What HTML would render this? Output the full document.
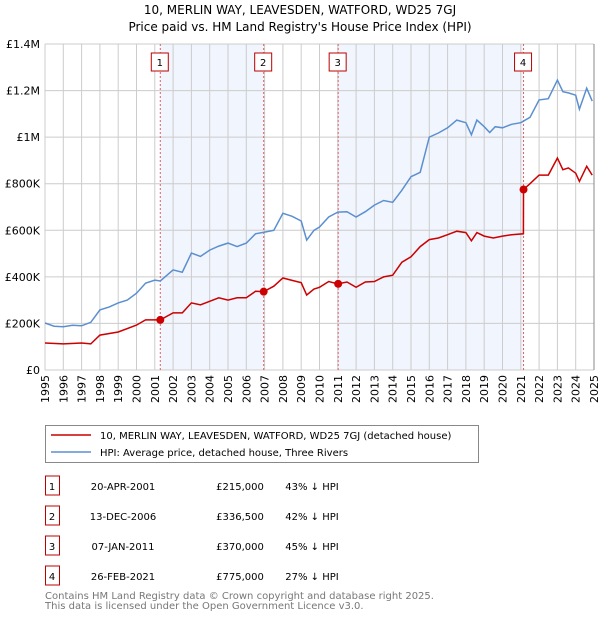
<!DOCTYPE html>
<html><head><meta charset="utf-8"><style>
body{margin:0;background:#fff;font-family:"DejaVu Sans","Liberation Sans",sans-serif;}
svg text{font-family:"DejaVu Sans","Liberation Sans",sans-serif;}
</style></head><body>
<svg id="c" width="600" height="620" xmlns="http://www.w3.org/2000/svg">
<text x="300" y="14" text-anchor="middle" font-size="12">10, MERLIN WAY, LEAVESDEN, WATFORD, WD25 7GJ</text>
<text x="300" y="31" text-anchor="middle" font-size="12">Price paid vs. HM Land Registry's House Price Index (HPI)</text>
<g id="plot"></g>
<g>
<rect x="45.5" y="425.5" width="433" height="37" fill="#fff" stroke="#888"/>
<line x1="51" y1="435" x2="91" y2="435" stroke="#cc0000" stroke-width="1.5"/>
<text x="100" y="439" font-size="10">10, MERLIN WAY, LEAVESDEN, WATFORD, WD25 7GJ (detached house)</text>
<line x1="51" y1="452" x2="91" y2="452" stroke="#5b8fd0" stroke-width="1.5"/>
<text x="100" y="456" font-size="10">HPI: Average price, detached house, Three Rivers</text>
</g>
<g id="table" font-size="10"></g>
<text x="45" y="599" font-size="10" fill="#777">Contains HM Land Registry data © Crown copyright and database right 2025.</text>
<text x="45" y="609" font-size="10" fill="#777">This data is licensed under the Open Government Licence v3.0.</text>
</svg>
<script>
const hpiYears=[1995,1995.5,1996,1996.5,1997,1997.5,1998,1998.5,1999,1999.5,2000,2000.5,2001,2001.3,2002,2002.5,2003,2003.5,2004,2004.5,2005,2005.5,2006,2006.5,2007,2007.5,2008,2008.5,2009,2009.3,2009.7,2010,2010.5,2011,2011.5,2012,2012.5,2013,2013.5,2014,2014.5,2015,2015.5,2016,2016.5,2017,2017.5,2018,2018.3,2018.6,2019,2019.3,2019.6,2020,2020.5,2021,2021.5,2022,2022.5,2023,2023.3,2023.6,2024,2024.2,2024.6,2024.9];
const hpiValues=[202,188,186,192,190,205,258,270,288,300,330,373,386,382,430,420,502,488,515,532,545,530,545,585,592,600,673,660,640,558,600,614,657,678,680,657,680,708,728,720,772,830,849,1000,1018,1040,1073,1062,1010,1073,1045,1020,1045,1040,1055,1062,1085,1160,1165,1245,1195,1190,1180,1120,1210,1155];
const propYears=[1995,1996,1997,1997.5,1998,1999,2000,2000.5,2001.3,2002,2002.5,2003,2003.5,2004,2004.5,2005,2005.5,2006,2006.5,2006.95,2007.5,2008,2008.5,2009,2009.3,2009.7,2010,2010.5,2011,2011.5,2012,2012.5,2013,2013.5,2014,2014.5,2015,2015.5,2016,2016.5,2017,2017.5,2018,2018.3,2018.6,2019,2019.5,2020,2020.5,2021.14,2021.15,2021.5,2022,2022.5,2023,2023.3,2023.6,2024,2024.2,2024.6,2024.9];
const propValues=[116,112,116,112,150,163,193,215,215,245,245,288,280,295,310,300,310,310,338,336.5,360,395,385,375,322,348,355,380,370,378,355,378,380,400,407,463,486,530,560,567,581,596,590,555,590,575,567,575,581,585,775,800,837,837,910,860,868,845,810,875,837];
const saleLabels=["1","2","3","4"];
const saleYears=[2001.3,2006.95,2011.02,2021.15];
const saleValues=[215,336.5,370,775];
const saleDates=["20-APR-2001","13-DEC-2006","07-JAN-2011","26-FEB-2021"];
const salePrices=["£215,000","£336,500","£370,000","£775,000"];
const salePcts=["43% ↓ HPI","42% ↓ HPI","45% ↓ HPI","27% ↓ HPI"];
const yTicks=[0,200,400,600,800,1000,1200,1400];
const yTickLabels=["£0","£200K","£400K","£600K","£800K","£1M","£1.2M","£1.4M"];
const xTicks=[1995,1996,1997,1998,1999,2000,2001,2002,2003,2004,2005,2006,2007,2008,2009,2010,2011,2012,2013,2014,2015,2016,2017,2018,2019,2020,2021,2022,2023,2024,2025];

const L=45,R=594,T=44,B=370,NS="http://www.w3.org/2000/svg";
const xs=y=>L+(y-1995)/30*(R-L);
const ys=v=>B-v/1400*(B-T);
const plot=document.getElementById('plot');
function mk(tag,attrs,parent){const e=document.createElementNS(NS,tag);for(const k in attrs)e.setAttribute(k,attrs[k]);(parent||plot).appendChild(e);return e;}
for(let i=0;i<saleYears.length;i+=2){
 const r=mk('rect',{x:xs(saleYears[i]),y:T,width:xs(saleYears[i+1])-xs(saleYears[i]),height:B-T,fill:'#eef3fc',opacity:0.8});
 
 
}
xTicks.forEach((t,i)=>{
 const l=mk('line',{x1:xs(t),x2:xs(t),y1:T,y2:B,stroke:'#ccc','stroke-width':1});
 
 
 const px=xs(t)+4, py=B+5;
 const tx=mk('text',{x:px,y:py,'text-anchor':'end','font-size':11,transform:'rotate(-90 '+px+' '+py+')'});
 tx.textContent=t;
 
 
});
yTicks.forEach((t,i)=>{
 const l=mk('line',{x1:L,x2:R,y1:ys(t),y2:ys(t),stroke:'#ccc','stroke-width':1});
 
 
 const tx=mk('text',{x:L-5,y:ys(t)+4,'text-anchor':'end','font-size':11});
 tx.textContent=yTickLabels[i];
 
 
});
saleYears.forEach((y,i)=>{
 const l=mk('line',{x1:xs(y),x2:xs(y),y1:T,y2:B,stroke:'#e06060','stroke-width':1,'stroke-dasharray':'2,2'});
 
 
 const b=mk('rect',{x:xs(y)-9,y:53,width:17,height:18,fill:'#fff',stroke:'#b00'});
 
 
 const t=mk('text',{x:xs(y)-0.5,y:66,'text-anchor':'middle','font-size':10});
 t.textContent=saleLabels[i];
 
 
});
const hp=mk('path',{d:hpiYears.map((y,i)=>(i?'L':'M')+xs(y).toFixed(1)+','+ys(hpiValues[i]).toFixed(1)).join(''),fill:'none',stroke:'#5b8fd0','stroke-width':1.5});


const pp=mk('path',{d:propYears.map((y,i)=>(i?'L':'M')+xs(y).toFixed(1)+','+ys(propValues[i]).toFixed(1)).join(''),fill:'none',stroke:'#cc0000','stroke-width':1.5});


saleYears.forEach((y,i)=>{
 const c=mk('circle',{cx:xs(y),cy:ys(saleValues[i]),r:4,fill:'#cc0000'});
 
 
});
mk('line',{x1:R,x2:R,y1:T,y2:B,stroke:'#888'});
const tb=document.getElementById('table');
saleLabels.forEach((s,i)=>{
 const y=486+i*30;
 const b=mk('rect',{x:45.5,y:y-10,width:14,height:19,fill:'#fff',stroke:'#b00'},tb);
 
 
 const cells=[[52,s,'middle'],[123,saleDates[i],'middle'],[240,salePrices[i],'middle'],[312,salePcts[i],'middle']];
 cells.forEach(c=>{
  const t=mk('text',{x:c[0],y:y+4,'text-anchor':c[2]},tb);
  t.textContent=c[1];
  
  
 });
});
</script>
</body></html>
